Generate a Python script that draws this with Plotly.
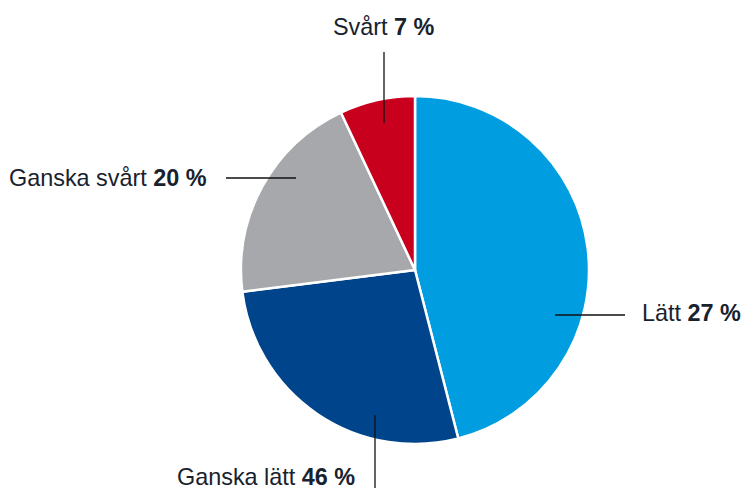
import plotly.graph_objects as go

# slice sizes as drawn (clockwise from 12 o'clock)
slice_values = [46, 27, 20, 7]
slice_colors = ['#009EE0', '#00458B', '#A6A8AB', '#C8001E']
# labels as printed beside each slice
label_names = ['Lätt', 'Ganska lätt', 'Ganska svårt', 'Svårt']
label_pcts = [27, 46, 20, 7]

W, H = 748, 491
cx, cy, R = 415, 270, 174

fig = go.Figure()
fig.add_trace(go.Pie(
    values=slice_values, marker=dict(colors=slice_colors, line=dict(color='white', width=2.5)),
    sort=False, direction='clockwise', rotation=0, textinfo='none', hoverinfo='skip',
    showlegend=False,
    domain=dict(x=[(cx - R) / W, (cx + R) / W], y=[(H - cy - R) / H, (H - cy + R) / H]),
))

# leader lines (x0, y0, x1, y1) and label anchors, in pixel space
leaders = [(555, 315, 625, 315), (375, 415, 375, 488), (226, 178, 296, 178), (384, 52, 384, 123)]
anchors = [(640, 313, 'left'), (357, 477, 'right'), (209, 178, 'right'), (384, 27, 'center')]

for (x0, y0, x1, y1) in leaders:
    fig.add_shape(type='line', xref='x', yref='y', x0=x0, y0=y0, x1=x1, y1=y1,
                  line=dict(color='#111111', width=1.3))

for name, pct, (ax, ay, al) in zip(label_names, label_pcts, anchors):
    fig.add_annotation(x=ax, y=ay, xref='x', yref='y', text=f'{name} <b>{pct} %</b>',
                       showarrow=False, xanchor=al, yanchor='middle',
                       font=dict(family='Liberation Sans, Arial', size=23.4, color='#18222e'))

fig.update_xaxes(range=[0, W], visible=False, fixedrange=True)
fig.update_yaxes(range=[H, 0], visible=False, fixedrange=True)
fig.update_layout(width=W, height=H, margin=dict(l=0, r=0, t=0, b=0),
                  paper_bgcolor='white', plot_bgcolor='rgba(0,0,0,0)')
fig.write_html('out.html', config={'displayModeBar': False},
               post_script="document.body.style.margin='0';")
